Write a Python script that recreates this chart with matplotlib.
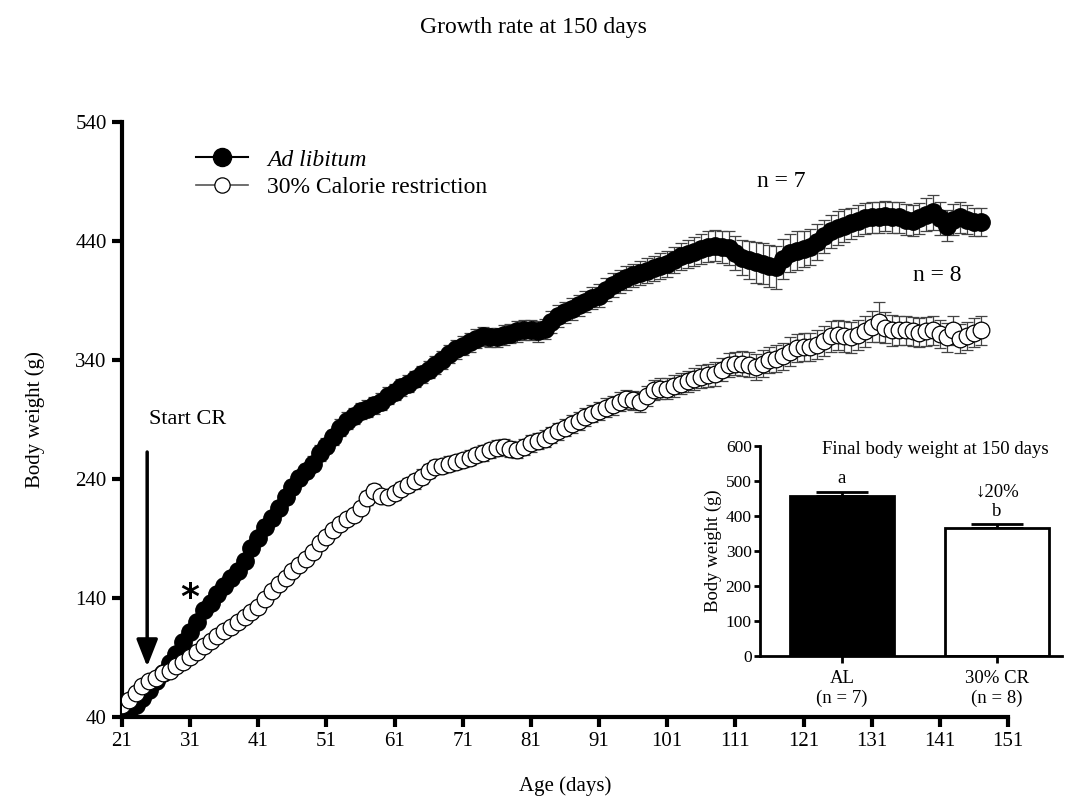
import numpy as np
import matplotlib
matplotlib.use("Agg")
import matplotlib.pyplot as plt
from matplotlib.lines import Line2D

plt.rcParams['font.family'] = ['Liberation Serif', 'DejaVu Serif']

# daily body weight (g), days 21..147
days = list(range(21, 148))

al_mean = [47, 46, 50, 56, 63, 70, 77, 85, 93, 103,
           111, 120, 130, 136, 143, 150, 157, 163, 171, 182,
           190, 200, 207, 216, 225, 233, 241, 247, 253, 262,
           268, 275, 283, 289, 293, 297, 299, 302, 305, 310,
           313, 317, 320, 324, 328, 332, 336, 340, 345, 349,
           352, 355, 358, 360, 359, 359, 361, 362, 364, 365,
           365, 364, 366, 372, 377, 380, 383, 386, 389, 392,
           394, 399, 403, 406, 409, 411, 413, 415, 417, 419,
           421, 424, 427, 429, 431, 433, 435, 436, 435, 434,
           430, 426, 424, 422, 421, 419, 418, 425, 430, 432,
           433, 435, 439, 444, 448, 451, 453, 455, 457, 459,
           460, 460, 461, 460, 460, 458, 457, 459, 462, 464,
           459, 453, 458, 460, 458, 456, 456]

al_sem = [1.5, 1.5, 2, 2, 2.5, 2.5, 3, 3, 3, 3.5,
          3.5, 4, 4, 4, 4.5, 4.5, 5, 5, 5, 5,
          5, 5.5, 5.5, 5.5, 6, 6, 6, 6, 6.5, 6.5,
          6.5, 6.5, 7, 7, 7, 7, 7, 7, 7, 7,
          7, 7, 7, 7, 7, 7.5, 7.5, 7.5, 7.5, 8,
          8, 8, 8, 8, 8, 8, 8, 8, 8.5, 8.5,
          8.5, 8.5, 8.5, 9, 9, 9, 9, 9, 9, 9.5,
          9.5, 9.5, 10, 10, 10, 10, 10, 10.5, 10.5, 11,
          11, 11, 11.5, 12, 12, 12.5, 13, 13, 13.5, 14,
          14, 15, 16, 17, 17, 18, 18, 17, 16, 16,
          15, 15, 15, 14, 14, 14, 14, 13, 13, 13,
          13, 13, 13, 13, 13, 13, 13, 13, 14, 15,
          14, 13, 13, 13, 12, 12, 12]

cr_mean = [50, 54, 60, 66, 70, 73, 77, 79, 83, 86,
           90, 95, 100, 104, 108, 112, 116, 120, 124, 128,
           132, 139, 146, 152, 157, 163, 168, 173, 179, 186,
           191, 197, 202, 206, 210, 216, 224, 230, 226, 225,
           228, 232, 235, 238, 242, 247, 250, 251, 253, 254,
           256, 258, 260, 262, 264, 266, 267, 265, 264, 267,
           270, 272, 274, 277, 280, 283, 286, 289, 292, 295,
           297, 300, 302, 305, 307, 306, 305, 310, 315, 316,
           316, 318, 320, 322, 324, 326, 327, 328, 332, 336,
           337, 337, 336, 334, 337, 340, 341, 343, 347, 350,
           351, 351, 353, 356, 360, 361, 360, 359, 361, 364,
           368, 372, 367, 365, 365, 365, 364, 363, 364, 365,
           362, 359, 365, 358, 360, 363, 365]

cr_sem = [1.5, 1.5, 1.5, 2, 2, 2, 2, 2, 2.5, 2.5,
          2.5, 2.5, 3, 3, 3, 3, 3, 3.5, 3.5, 3.5,
          3.5, 4, 4, 4, 4, 4, 4.5, 4.5, 4.5, 4.5,
          5, 5, 5, 5, 5, 5, 5.5, 5.5, 5.5, 5.5,
          5.5, 5.5, 6, 6, 6, 6, 6, 6, 6, 6,
          6, 6, 6, 6.5, 6.5, 6.5, 6.5, 6.5, 6.5, 6.5,
          7, 7, 7, 7, 7, 7, 7.5, 7.5, 7.5, 7.5,
          7.5, 8, 8, 8, 8, 8, 8.5, 8.5, 8.5, 8.5,
          9, 9, 9, 9, 9.5, 9.5, 9.5, 10, 10, 10,
          10, 10.5, 10.5, 11, 11, 11, 11.5, 11.5, 12, 12,
          12, 12, 12.5, 12.5, 13, 13, 13, 13, 13, 13,
          13, 17, 13, 13, 12, 12, 12, 12, 12, 12,
          12, 12, 12, 12, 12, 12, 12]

# inset: final body weight at 150 days
groups = ['AL\n(n = 7)', '30% CR\n(n = 8)']
final_mean = [457, 367]
final_sem = [13, 11]
final_letters = ['a', 'b']

fig = plt.figure(figsize=(10.66, 8.01), dpi=100)
ax = fig.add_axes([0.1144, 0.1049, 0.8312, 0.7428])

ax.errorbar(days, al_mean, yerr=al_sem, fmt='o-', color='black', mfc='black',
            mec='black', ms=12.5, lw=1.5, elinewidth=0.9, ecolor='#444444',
            capsize=4.5, capthick=0.9, zorder=2)
ax.errorbar(days, cr_mean, yerr=cr_sem, fmt='o-', color='black', mfc='white',
            mec='black', mew=0.9, ms=12, lw=0.8, elinewidth=0.9, ecolor='#444444',
            capsize=4.5, capthick=0.9, zorder=3)

ax.set_xlim(21, 151)
ax.set_ylim(40, 540)
ax.set_xticks(range(21, 152, 10))
ax.set_yticks(range(40, 541, 100))
for s in ['top', 'right']:
    ax.spines[s].set_visible(False)
for s in ['left', 'bottom']:
    ax.spines[s].set_linewidth(3)
ax.tick_params(direction='out', length=7, width=3, labelsize=15, pad=4)
ax.set_xlabel('Age (days)', fontsize=15, labelpad=18)
ax.set_ylabel('Body weight (g)', fontsize=15, labelpad=22)

handles = [Line2D([], [], color='black', lw=1.5, marker='o', ms=13, mfc='black'),
           Line2D([], [], color='#555555', lw=1.2, marker='o', ms=11, mfc='white',
                  mec='black', mew=0.9)]
leg = ax.legend(handles, ['Ad libitum', '30% Calorie restriction'], loc='upper left',
                bbox_to_anchor=(0.06, 0.99), frameon=False, fontsize=17,
                handlelength=2.2, handletextpad=0.8, labelspacing=0.25)
leg.get_texts()[0].set_style('italic')

ax.annotate('', xy=(24.7, 80), xytext=(24.7, 265),
            arrowprops=dict(arrowstyle='-|>,head_length=1.65,head_width=0.65',
                            color='black', lw=2.5))
ax.text(25.0, 290, 'Start CR', fontsize=16, ha='left', va='center')
ax.text(31.0, 140, '*', fontsize=26, fontweight='bold', ha='center', va='center',
        family='DejaVu Sans')
ax.text(117.8, 490, 'n = 7', fontsize=17, ha='center', va='center')
ax.text(140.6, 411, 'n = 8', fontsize=17, ha='center', va='center')

fig.text(0.5, 0.966, 'Growth rate at 150 days', fontsize=17, ha='center', va='center')

# inset bar chart
ins = fig.add_axes([0.713, 0.181, 0.283, 0.262])
xpos = np.arange(len(groups))
ins.bar(xpos, final_mean, width=0.67, color=['black', 'white'], edgecolor='black',
        linewidth=2, zorder=2)
ins.errorbar(xpos, final_mean, yerr=[[0, 0], final_sem], fmt='none', ecolor='black',
             elinewidth=2, capsize=19, capthick=2, zorder=1)
for x, m, e, lab in zip(xpos, final_mean, final_sem, final_letters):
    ins.text(x, m + e + 12, lab, fontsize=13.5, ha='center', va='bottom')
ins.text(0.86, 468, '↓20%', fontsize=13.5, ha='left', va='center',
         family=['Liberation Serif', 'DejaVu Sans'])
ins.set_xlim(-0.53, 1.42)
ins.set_ylim(0, 600)
ins.set_yticks(range(0, 601, 100))
ins.set_xticks(xpos)
ins.set_xticklabels(groups)
for s in ['top', 'right']:
    ins.spines[s].set_visible(False)
for s in ['left', 'bottom']:
    ins.spines[s].set_linewidth(2)
ins.tick_params(direction='out', length=4, width=2, labelsize=12.5, pad=2)
ins.tick_params(axis='x', length=5, pad=5, labelsize=13.5)
ins.set_ylabel('Body weight (g)', fontsize=13.5, labelpad=3)
ins.text(0.58, 0.985, 'Final body weight at 150 days', transform=ins.transAxes,
         fontsize=13.5, ha='center', va='center')

fig.savefig('out.png', dpi=100)
